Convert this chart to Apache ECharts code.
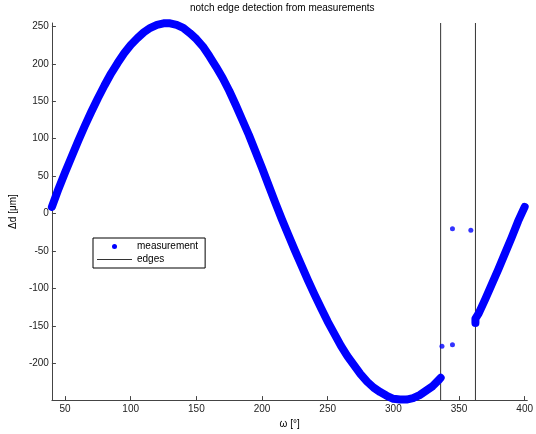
<!DOCTYPE html>
<html>
<head>
<meta charset="utf-8">
<script src="https://cdn.jsdelivr.net/npm/echarts@6/dist/echarts.min.js"></script>
<style>
  html, body { margin: 0; padding: 0; background: #fff; }
  #chart { width: 536px; height: 434px; }
</style>
</head>
<body>
<div id="chart"></div>
<script>
// measurement before the notch
const angle1 = [40, 45, 50, 55, 60, 65, 70, 75, 80, 85, 90, 95, 100, 105, 110, 115, 120, 125, 130, 135,
  140, 145, 150, 155, 160, 165, 170, 175, 180, 185, 190, 195, 200, 205, 210, 215, 220, 225, 230, 235,
  240, 245, 250, 255, 260, 265, 270, 275, 280, 285, 290, 295, 300, 305, 310, 315, 320, 325, 330, 335, 336]
const delta1 = [9, 33, 55, 76, 97, 117, 136, 154, 171, 187, 201, 214, 225, 234, 242, 248, 252, 254, 254, 252,
  248, 241, 233, 223, 210, 196, 181, 164, 145, 125, 105, 83, 61, 38, 15, -7, -28, -49, -69, -89,
  -108, -126, -144, -160, -176, -190, -202, -214, -224, -232, -238, -243, -247, -248, -248, -246, -242, -236, -230, -221, -219]
// measurement after the notch
const angle2 = [362.5, 362.5, 365, 370, 375, 380, 385, 390, 395, 400]
const delta2 = [-146, -140, -133, -114, -94, -74, -53, -32, -10, 9]
// stray points inside the notch
const strayAngle = [337, 345, 345, 359]
const strayDelta = [-177, -175, -20, -22]
// detected edges
const edgeAngles = [336, 362.5]

const xMin = 40, xMax = 402
const yMin = -248.7, yMax = 254.4
const xTicks = [50, 100, 150, 200, 250, 300, 350, 400]
const yTicks = [-200, -150, -100, -50, 0, 50, 100, 150, 200, 250]

const blue = '#0000ff'
const font = "'Liberation Sans', Arial, sans-serif"

const pair = (xs, ys) => xs.map((x, i) => [x, ys[i]])

const chart = echarts.init(document.getElementById('chart'))

let series = [
  {
    name: 'measurement',
    type: 'line',
    data: pair(angle1, delta1),
    symbol: 'none',
    clip: false,
    lineStyle: { color: blue, width: 8, cap: 'round', join: 'round' },
    itemStyle: { color: blue },
    z: 3
  },
  {
    name: 'measurement',
    type: 'line',
    data: pair(angle2, delta2),
    symbol: 'none',
    clip: false,
    lineStyle: { color: blue, width: 8, cap: 'round', join: 'round' },
    itemStyle: { color: blue },
    z: 3
  },
  {
    name: 'measurement',
    type: 'scatter',
    data: pair(strayAngle, strayDelta),
    symbol: 'circle',
    symbolSize: 5,
    itemStyle: { color: blue },
    z: 3
  }
]
edgeAngles.forEach(a => {
  series.push({
    name: 'edges',
    type: 'line',
    data: [[a, yMin], [a, yMax]],
    symbol: 'none',
    lineStyle: { color: '#333', width: 1 },
    itemStyle: { color: '#333' },
    z: 2
  })
})

const option = {
  animation: false,
  backgroundColor: '#fff',
  textStyle: { fontFamily: font },
  title: {
    text: 'notch edge detection from measurements',
    left: 190,
    top: 3,
    padding: 0,
    textStyle: { fontFamily: font, fontSize: 10, fontWeight: 'normal', color: '#000' }
  },
  grid: { left: 47, right: 7, top: 23, bottom: 33 },
  legend: {
    orient: 'vertical',
    left: 93,
    top: 238,
    padding: [3, 7, 3, 4],
    itemGap: 2,
    itemWidth: 35,
    itemHeight: 5,
    borderColor: '#000',
    borderWidth: 1,
    borderRadius: 0,
    backgroundColor: '#fff',
    selectedMode: false,
    textStyle: { fontFamily: font, fontSize: 10, lineHeight: 11, color: '#000' },
    data: [
      { name: 'measurement', icon: 'circle' },
      { name: 'edges', icon: 'path://M0,0L35,0L35,0.8L0,0.8Z' }
    ]
  },
  xAxis: {
    type: 'value',
    min: xMin,
    max: xMax,
    name: 'ω [°]',
    nameLocation: 'middle',
    nameGap: 18,
    nameTextStyle: { fontFamily: font, fontSize: 10, color: '#000' },
    axisLine: { show: true, onZero: false, lineStyle: { color: '#444', width: 1 } },
    axisTick: { show: true, inside: true, length: 4, customValues: xTicks, lineStyle: { color: '#444' } },
    axisLabel: { customValues: xTicks, margin: 4, fontFamily: font, fontSize: 10, color: '#222' },
    splitLine: { show: false }
  },
  yAxis: {
    type: 'value',
    min: yMin,
    max: yMax,
    name: 'Δd [μm]',
    nameLocation: 'middle',
    nameGap: 29,
    nameTextStyle: { fontFamily: font, fontSize: 10, color: '#000' },
    axisLine: { show: true, onZero: false, lineStyle: { color: '#444', width: 1 } },
    axisTick: { show: true, inside: true, length: 4, customValues: yTicks, lineStyle: { color: '#444' } },
    axisLabel: { customValues: yTicks, margin: 3, fontFamily: font, fontSize: 10, color: '#222' },
    splitLine: { show: false }
  },
  series: series
}

chart.setOption(option)
</script>
</body>
</html>
